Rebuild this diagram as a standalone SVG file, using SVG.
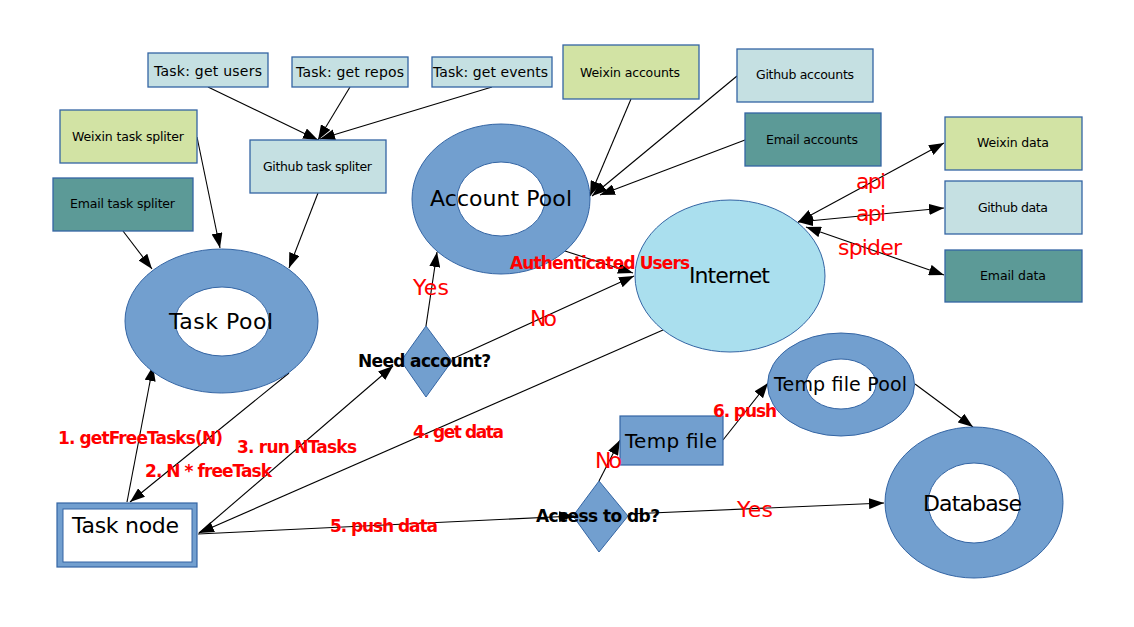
<svg xmlns="http://www.w3.org/2000/svg" width="1134" height="627" viewBox="0 0 1134 627">
<style>
.bx{stroke:#3465a4;stroke-width:1.3}
.gr{fill:#d2e3a4}
.lb{fill:#c5e0e2}
.tl{fill:#5c9a97}
.ring{fill:#729fcf;stroke:#3465a4;stroke-width:1}
.hole{fill:#fff;stroke:#3465a4;stroke-width:1}
.ln{fill:none;stroke:#000;stroke-width:1.1}
text{font-family:"DejaVu Sans","Liberation Sans",sans-serif;fill:#000}
.s12{font-size:12.5px}
.s14{font-size:14px}
.big{font-size:22px}
.rb{font-size:17px;font-weight:bold;fill:#ff0000}
.rn{font-size:22px;fill:#ff0000}
.kb{font-size:17px;font-weight:bold}
</style>
<defs>
<marker id="ah" viewBox="0 0 15 11" refX="15" refY="5.5" markerWidth="15" markerHeight="11" markerUnits="userSpaceOnUse" orient="auto-start-reverse"><path d="M0,0 L15,5.5 L0,11 z" fill="#000"/></marker>
</defs>
<rect width="1134" height="627" fill="#fff"/>
<g id="connectors">
<path class="ln" d="M208,87 L318,140" marker-end="url(#ah)"/>
<path class="ln" d="M350,87 L318,140" marker-end="url(#ah)"/>
<path class="ln" d="M492,87 L320,139" marker-end="url(#ah)"/>
<path class="ln" d="M197,137 L220,248" marker-end="url(#ah)"/>
<path class="ln" d="M123,231 L152,269" marker-end="url(#ah)"/>
<path class="ln" d="M318,193 L289,268" marker-end="url(#ah)"/>
<path class="ln" d="M631,99 L590,196" marker-end="url(#ah)"/>
<path class="ln" d="M737,76 L592,196" marker-end="url(#ah)"/>
<path class="ln" d="M745,140 L600,195" marker-end="url(#ah)"/>
<path class="ln" d="M798,222 L944,143" marker-start="url(#ah)" marker-end="url(#ah)"/>
<path class="ln" d="M798,222 L944,208" marker-start="url(#ah)" marker-end="url(#ah)"/>
<path class="ln" d="M806,227 L944,275" marker-start="url(#ah)" marker-end="url(#ah)"/>
<path class="ln" d="M565,251 L633,273" marker-end="url(#ah)"/>
<path class="ln" d="M426,326 L437,252" marker-end="url(#ah)"/>
<path class="ln" d="M452,359 L634,276" marker-end="url(#ah)"/>
<path class="ln" d="M289,373 L130,502" marker-end="url(#ah)"/>
<path class="ln" d="M127,502 L153,366" marker-end="url(#ah)"/>
<path class="ln" d="M199,533 L393,366" marker-end="url(#ah)"/>
<path class="ln" d="M663,330 L199,533" marker-end="url(#ah)"/>
<path class="ln" d="M198,534 L574,516" marker-end="url(#ah)"/>
<path class="ln" d="M599,481 L620,440" marker-end="url(#ah)"/>
<path class="ln" d="M628,514 L884,503" marker-end="url(#ah)"/>
<path class="ln" d="M723,440 L768,383" marker-end="url(#ah)"/>
<path class="ln" d="M915,384 L973,427" marker-end="url(#ah)"/>
</g>
<g id="task-get-users"><rect class="bx lb" x="148" y="53" width="120" height="34"/><text class="s14" x="154" y="76" textLength="108">Task: get users</text></g>
<g id="task-get-repos"><rect class="bx lb" x="292" y="57" width="116" height="30"/><text class="s14" x="296" y="77" textLength="108">Task: get repos</text></g>
<g id="task-get-events"><rect class="bx lb" x="432" y="57" width="120" height="30"/><text class="s14" x="433" y="77" textLength="115">Task: get events</text></g>
<g id="weixin-task-spliter"><rect class="bx gr" x="60" y="110" width="137" height="53"/><text class="s12" x="72" y="141" textLength="112">Weixin task spliter</text></g>
<g id="email-task-spliter"><rect class="bx tl" x="53" y="178" width="140" height="53"/><text class="s12" x="70" y="208" textLength="105">Email task spliter</text></g>
<g id="github-task-spliter"><rect class="bx lb" x="250" y="140" width="136" height="53"/><text class="s12" x="263" y="171" textLength="109">Github task spliter</text></g>
<g id="weixin-accounts"><rect class="bx gr" x="563" y="45" width="136" height="54"/><text class="s12" x="580" y="77" textLength="100">Weixin accounts</text></g>
<g id="github-accounts"><rect class="bx lb" x="737" y="49" width="136" height="53"/><text class="s12" x="756" y="79" textLength="98">Github accounts</text></g>
<g id="email-accounts"><rect class="bx tl" x="745" y="113" width="136" height="53"/><text class="s12" x="766" y="144" textLength="92">Email accounts</text></g>
<g id="weixin-data"><rect class="bx gr" x="945" y="117" width="137" height="53"/><text class="s12" x="977" y="147" textLength="72">Weixin data</text></g>
<g id="github-data"><rect class="bx lb" x="945" y="181" width="137" height="53"/><text class="s12" x="978" y="212" textLength="70">Github data</text></g>
<g id="email-data"><rect class="bx tl" x="945" y="250" width="137" height="52"/><text class="s12" x="980" y="280" textLength="66">Email data</text></g>
<g id="account-pool"><ellipse class="ring" cx="501" cy="199" rx="89" ry="75"/><ellipse class="hole" cx="501" cy="199" rx="44" ry="37"/><text class="big" x="430" y="206" textLength="142">Account Pool</text></g>
<g id="task-pool"><ellipse class="ring" cx="221.5" cy="321" rx="96.5" ry="72"/><ellipse class="hole" cx="222" cy="321.5" rx="47" ry="34.5"/><text class="big" x="169" y="329" textLength="104">Task Pool</text></g>
<g id="internet"><ellipse cx="730" cy="276" rx="95" ry="76" fill="#aadfee" stroke="#3465a4" stroke-width="1"/><text class="big" x="689" y="283" textLength="81">Internet</text></g>
<g id="temp-file-pool"><ellipse class="ring" cx="841" cy="384.5" rx="73.5" ry="51.5"/><ellipse class="hole" cx="841" cy="384" rx="35" ry="25"/><text style="font-size:19px" x="774" y="391" textLength="133">Temp file Pool</text></g>
<g id="database"><ellipse class="ring" cx="974" cy="502.5" rx="89" ry="75.5"/><ellipse class="hole" cx="974" cy="503" rx="46" ry="40"/><text class="big" x="923" y="511" textLength="99">Database</text></g>
<g id="task-node"><rect x="57" y="503" width="140" height="64" fill="#729fcf" stroke="#3465a4" stroke-width="1.2"/><rect x="63" y="509" width="129" height="53" fill="#fff" stroke="#3465a4" stroke-width="1"/><text class="big" x="72" y="533" textLength="107">Task node</text></g>
<g id="temp-file"><rect x="620" y="416" width="103" height="49" fill="#729fcf" stroke="#3465a4" stroke-width="1.2"/><text style="font-size:20px" x="625" y="448" textLength="92">Temp file</text></g>
<g id="need-account"><path d="M426,326 L452,361 L426,397 L401,361 z" fill="#729fcf" stroke="#3465a4" stroke-width="1"/><text class="kb" x="358" y="367" textLength="133">Need account?</text></g>
<g id="access-db"><path d="M599,481 L628,516 L599,552 L573,516 z" fill="#729fcf" stroke="#3465a4" stroke-width="1"/><text class="kb" x="536" y="522" textLength="124">Access to db?</text></g>
<g id="connector-labels">
<text class="rb" x="510" y="269" textLength="180">Authenticated Users</text>
<text class="rn" x="413" y="295" textLength="36">Yes</text>
<text class="rn" x="530" y="326" textLength="27">No</text>
<text class="rb" x="413" y="438" textLength="91">4. get data</text>
<text class="rn" x="595" y="468" textLength="27">No</text>
<text class="rn" x="737" y="517" textLength="36">Yes</text>
<text class="rb" x="713" y="417" textLength="64">6. push</text>
<text class="rb" x="330" y="532" textLength="108">5. push data</text>
<text class="rb" x="58" y="444" textLength="165">1. getFreeTasks(N)</text>
<text class="rb" x="145" y="477" textLength="127">2. N * freeTask</text>
<text class="rb" x="237" y="453" textLength="120">3. run NTasks</text>
<text class="rn" x="856" y="189" textLength="30">api</text>
<text class="rn" x="856" y="221" textLength="30">api</text>
<text class="rn" x="838" y="255" textLength="64">spider</text>
</g>
</svg>
